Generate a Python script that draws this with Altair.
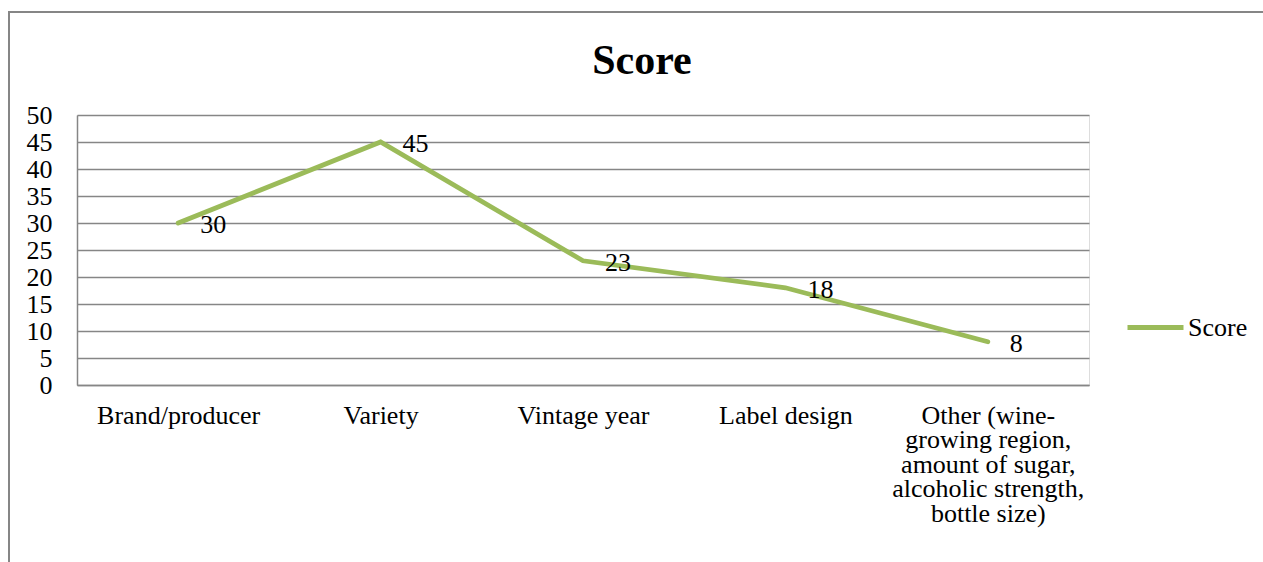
import altair as alt
import pandas as pd

# Category names, their wrapped axis labels, and the score of each
categories = [
    "Brand/producer",
    "Variety",
    "Vintage year",
    "Label design",
    "Other (wine-growing region, amount of sugar, alcoholic strength, bottle size)",
]
label_lines = [
    ["Brand/producer"],
    ["Variety"],
    ["Vintage year"],
    ["Label design"],
    ["Other (wine-", "growing region,", "amount of sugar,", "alcoholic strength,", "bottle size)"],
]
scores = [30, 45, 23, 18, 8]
series_name = "Score"

df = pd.DataFrame({"category": categories, "score": scores, "series": series_name})

# Lookup used by the x-axis to print multi-line labels
label_map = {c: l for c, l in zip(categories, label_lines)}
label_expr = "{}[datum.value]".format(
    "{" + ", ".join("{}: {}".format(repr(k), repr(v)) for k, v in label_map.items()) + "}"
)

FONT = "Liberation Serif"
FS = 26
GRID = "#868686"
GREEN = "#9BBB59"

W, H = 1012, 270
PAD = {"left": 77, "top": 115, "right": 1263 - 77 - W, "bottom": 562 - 115 - H}

x_enc = alt.X(
    "category:N",
    sort=categories,
    scale=alt.Scale(type="point", padding=0.5),
    axis=alt.Axis(
        title=None,
        labelExpr=label_expr,
        labelAngle=0,
        labelFont=FONT,
        labelFontSize=FS,
        labelColor="black",
        labelLineHeight=24.5,
        labelPadding=17,
        labelBaseline="top",
        labelLimit=400,
        ticks=False,
        domainColor=GRID,
        domainWidth=1.5,
        grid=False,
    ),
)
y_enc = alt.Y(
    "score:Q",
    scale=alt.Scale(domain=[0, 50], nice=False),
    axis=alt.Axis(
        title=None,
        values=list(range(0, 51, 5)),
        labelFont=FONT,
        labelFontSize=FS,
        labelColor="black",
        labelPadding=25,
        ticks=False,
        domainColor=GRID,
        domainWidth=1.5,
        gridColor=GRID,
        gridWidth=1.5,
    ),
)

base = alt.Chart(df)

# Outer chart frame (its right and bottom edges run past the page)
frame = base.mark_rect(fill=None, stroke=GRID, strokeWidth=1.5).encode(
    x=alt.value(9 - PAD["left"]),
    x2=alt.value(1266 - PAD["left"]),
    y=alt.value(12 - PAD["top"]),
    y2=alt.value(600 - PAD["top"]),
)

line = base.mark_line(strokeWidth=4.8, strokeCap="round", strokeJoin="miter").encode(
    x=x_enc,
    y=y_enc,
    color=alt.Color(
        "series:N",
        scale=alt.Scale(range=[GREEN]),
        legend=alt.Legend(
            title=None,
            orient="none",
            legendX=1048,
            legendY=182,
            symbolType="stroke",
            symbolSize=3136,
            symbolStrokeWidth=4.8,
            labelFont=FONT,
            labelFontSize=FS,
            labelColor="black",
            labelOffset=2,
            padding=0,
        ),
    ),
)

labels = base.mark_text(
    align="left", baseline="middle", dx=22, dy=2, font=FONT, fontSize=FS, color="black"
).encode(x=x_enc, y=y_enc, text=alt.Text("score:Q"))

chart = (
    alt.layer(frame, line, labels)
    .properties(
        width=W,
        height=H,
        padding=PAD,
        autosize=alt.AutoSizeParams(type="none"),
        title=alt.TitleParams(
            "Score",
            font=FONT,
            fontSize=42,
            fontWeight="bold",
            color="black",
            anchor="middle",
            frame="group",
            baseline="alphabetic",
            dx=59,
            offset=-105,
        ),
    )
    .configure_view(stroke=None)
    .configure(background="white")
)

chart.save("out.html", embed_options={"renderer": "svg", "actions": False})
